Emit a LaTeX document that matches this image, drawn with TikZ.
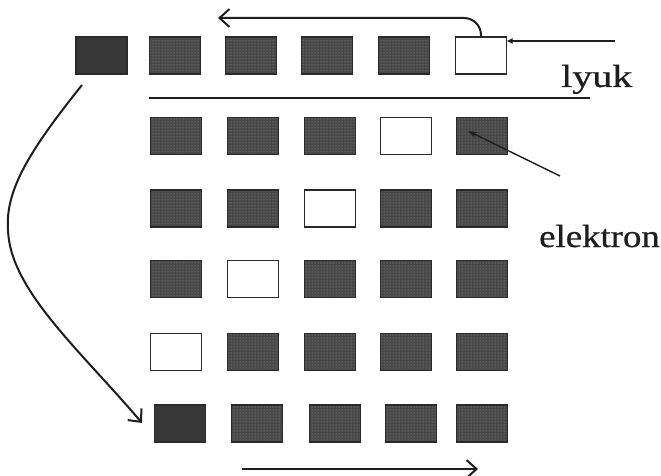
\documentclass[tikz,border=0pt]{standalone}
\usepackage{fontspec}
\setmainfont[FakeBold=0.6]{Liberation Serif}
\usetikzlibrary{arrows.meta,patterns}

\definecolor{edgegray}{HTML}{2A2A2A}
\definecolor{cellgray}{HTML}{474747}
\definecolor{dotgray}{HTML}{A8A8A8}
\definecolor{solidgray}{HTML}{383838}
\definecolor{inkgray}{HTML}{1E1E1E}

\tikzset{
  box/.style={minimum width=51pt, minimum height=37pt, inner sep=0pt, outer sep=0pt,
              line width=1.8pt, draw=edgegray},
  atom/.style={box, preaction={fill=cellgray}, preaction={pattern=dots, pattern color=dotgray}},
  hole/.style={box, fill=white},
  solid/.style={box, fill=solidgray},
  ink/.style={draw=inkgray, line width=2pt},
  barb/.style={ink, -{Straight Barb[length=10pt, width=18pt, line width=2pt]}},
  label/.style={anchor=base west, inner sep=0pt, text=inkgray, font=\fontsize{32}{36}\selectfont},
}

\begin{document}
\begin{tikzpicture}[x=1pt, y=-1pt]
  \useasboundingbox (0,0) rectangle (661,476);

  % top row: the moved electron on the left, the hole at the right end
  \node[solid] (r1c0) at (101.5,55.5) {};
  \node[atom]  (r1c1) at (175,55.5) {};
  \node[atom]  (r1c2) at (251,55.5) {};
  \node[atom]  (r1c3) at (327,55.5) {};
  \node[atom]  (r1c4) at (404,55.5) {};
  \node[hole]  (r1c5) at (481,55.5) {};

  % separator under the top row
  \coordinate (sepL) at (149,98);
  \coordinate (sepR) at (590,98);
  \draw[ink] (sepL) -- (sepR);

  % lattice rows 2..5: the hole steps one place left per row
  \foreach \r/\y/\h in {2/136/4, 3/208.5/3, 4/279/2, 5/352/1}{
    \foreach \c/\x in {1/176, 2/253, 3/330, 4/406, 5/482}{
      \ifnum\c=\h
        \node[hole] (r\r c\c) at (\x,\y) {};
      \else
        \node[atom] (r\r c\c) at (\x,\y) {};
      \fi
    }
  }

  % bottom row: the electron arrives at the left end
  \node[solid] (r6c1) at (180,423.5) {};
  \node[atom]  (r6c2) at (257,423.5) {};
  \node[atom]  (r6c3) at (335,423.5) {};
  \node[atom]  (r6c4) at (411,423.5) {};
  \node[atom]  (r6c5) at (482,423.5) {};

  % labels
  \node[label] (lyuk) at (561,87) {\scalebox{1.25}[1]{lyuk}};
  \node[label] (elektron) at (539,247) {\scalebox{1.15}[1]{elektron}};

  % hole enters from the right
  \coordinate (inR) at (615,41);
  \draw[ink, line width=1.4pt, -{Latex[length=6pt, width=6pt]}] (inR) -- (inR -| r1c5.east);

  % hole moves to the left along the top
  \coordinate (topTip) at (218,18);
  \draw[barb, rounded corners=17pt] (r1c5.north) |- (topTip);

  % pointer from the electron label into a lattice site
  \coordinate (elFrom) at (560,176);
  \coordinate (elTo) at (468,131);
  \draw[ink, line width=1.4pt, -{Stealth[length=9pt, width=6pt]}] (elFrom) -- (elTo);

  % electron wraps round from the top row to the bottom row
  \coordinate (wrapA) at (82,85);
  \coordinate (wrapM) at (8,230);
  \coordinate (wrapB) at (142,423);
  \draw[barb] (wrapA) .. controls (30,150) and (5,190) .. (wrapM)
                      .. controls (10,290) and (80,350) .. (wrapB);

  % drift to the right under the bottom row
  \coordinate (botL) at (242,469);
  \coordinate (botR) at (478,469);
  \draw[barb] (botL) -- (botR);
\end{tikzpicture}
\end{document}
